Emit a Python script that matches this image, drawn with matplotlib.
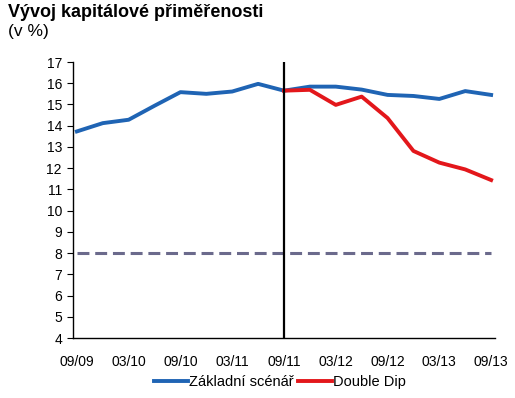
import matplotlib
matplotlib.use("Agg")
import matplotlib.pyplot as plt

plt.rcParams['font.family'] = ['Liberation Sans', 'DejaVu Sans']

quarters = ["09/09", "12/09", "03/10", "06/10", "09/10", "12/10", "03/11", "06/11", "09/11",
            "12/11", "03/12", "06/12", "09/12", "12/12", "03/13", "06/13", "09/13"]
zakladni = [13.73, 14.12, 14.28, 14.94, 15.58, 15.50, 15.61, 15.97, 15.65,
            15.84, 15.84, 15.70, 15.45, 15.40, 15.26, 15.63, 15.45]
double_dip = [15.65, 15.69, 14.98, 15.37, 14.36, 12.81, 12.26, 11.94, 11.44]
dd_start = 8
threshold = 8
yticks = list(range(4, 18))

fig = plt.figure(figsize=(5.15, 3.98), dpi=100)
ax = fig.add_axes([73/515, (398-338)/398, (495-73)/515, (338-62)/398])

x = list(range(len(quarters)))
ax.plot(x, [threshold]*len(x), color='#6b6a8c', lw=2.2, dashes=(3.9, 1.9))
l1, = ax.plot(x, zakladni, color='#1f64b4', lw=2.8, label='Základní scénář')
l2, = ax.plot(x[dd_start:], double_dip, color='#e3171b', lw=2.8, label='Double Dip')
ax.axvline(dd_start, color='black', lw=1.6)

ax.set_xlim(-0.15, 16.15)
ax.set_ylim(4, 17)
ax.set_yticks(yticks)
ax.set_xticks(x[::2])
ax.set_xticklabels(quarters[::2])
for s in ['top', 'right']:
    ax.spines[s].set_visible(False)
ax.spines['left'].set_linewidth(1.0)
ax.spines['bottom'].set_linewidth(1.0)
ax.tick_params(axis='y', length=4, width=0.8, labelsize=10, pad=4)
ax.tick_params(axis='x', length=0, labelsize=10, pad=12)

fig.text(8/515, 1 - 17/398, 'Vývoj kapitálové přiměřenosti', fontsize=13, fontweight='bold')
fig.text(8/515, 1 - 36/398, '(v %)', fontsize=12.5)

fig.legend(handles=[l1, l2], loc='center', bbox_to_anchor=(280/515, 1 - 382/398),
           ncol=2, frameon=False, fontsize=10.5, handlelength=2.3, handletextpad=0.05,
           columnspacing=0.35, borderaxespad=0, borderpad=0)

fig.savefig('out.png', dpi=100)
